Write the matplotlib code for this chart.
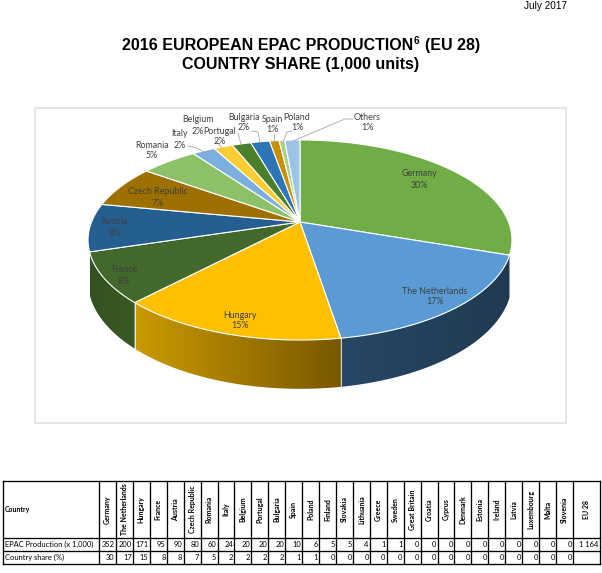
import matplotlib
matplotlib.use("Agg")
import matplotlib.pyplot as plt
import numpy as np
from matplotlib.patches import Polygon, Rectangle
from matplotlib.colors import to_rgb

# --- table data ---
countries = ["Germany", "The Netherlands", "Hungary", "France", "Austria", "Czech Republic",
             "Romania", "Italy", "Belgium", "Portugal", "Bulgaria", "Spain", "Poland",
             "Finland", "Slovakia", "Lithuania", "Greece", "Sweden", "Great Britain",
             "Croatia", "Cyprus", "Denmark", "Estonia", "Ireland", "Latvia", "Luxembourg",
             "Malta", "Slovenia", "EU 28"]
production = ["352", "200", "171", "95", "90", "80", "60", "24", "20", "20", "20", "10", "6",
              "5", "5", "4", "1", "1", "0", "0", "0", "0", "0", "0", "0", "0", "0", "0", "1 164"]
share = ["30", "17", "15", "8", "8", "7", "5", "2", "2", "2", "2", "1", "1",
         "0", "0", "0", "0", "0", "0", "0", "0", "0", "0", "0", "0", "0", "0", "0", ""]

# --- pie data ---
pie_names = ["Germany", "The Netherlands", "Hungary", "France", "Austria", "Czech Republic",
             "Romania", "Italy", "Belgium", "Portugal", "Bulgaria", "Spain", "Poland", "Others"]
pie_values = [352, 200, 171, 95, 90, 80, 60, 24, 20, 20, 20, 10, 6, 16]
pie_pct = [30, 17, 15, 8, 8, 7, 5, 2, 2, 2, 2, 1, 1, 1]
pie_colors = ["#70ad47", "#5b9bd5", "#ffc000", "#43682b", "#255e91", "#9e7000",
              "#8cc168", "#7cafdd", "#ffcd33", "#4a7f2c", "#2e75b6", "#c98f00", "#a9d18e", "#9dc3e6"]
# side wall gradients, left colour to right colour
side_colors = {"The Netherlands": ("#264766", "#213a52"),
               "Hungary": ("#cb9a00", "#785800"),
               "France": ("#33511f", "#3a5a25")}

plt.rcParams["font.family"] = ["Lato", "DejaVu Sans"]

fig = plt.figure(figsize=(6.02, 5.73), dpi=100)
ax = fig.add_axes([0, 0, 1, 1])
ax.axis("off")

# perspective of the pie, in pixels
x0, y0 = 300, 222
A, B, k = 208.5, 96.8, 0.18
depth = 40


def project(theta, d=0.0):
    w = 1 + k * np.cos(theta)
    return x0 + A * np.sin(theta) / w, y0 - B * np.cos(theta) / w + d / w


title_font = "Liberation Sans"
ax.text(545, 6, "July 2017", family=title_font, fontsize=7.2, ha="center", va="center")
ax.text(413, 45.5, "2016 EUROPEAN EPAC PRODUCTION", family=title_font,
        fontsize=11.5, fontweight="bold", ha="right", va="center")
ax.text(413.5, 41.5, "6", family=title_font, fontsize=7.2, fontweight="bold", ha="left", va="center")
ax.text(425, 45.5, "(EU 28)", family=title_font,
        fontsize=11.5, fontweight="bold", ha="left", va="center")
ax.text(301, 64, "COUNTRY SHARE (1,000 units)", family=title_font,
        fontsize=11.5, fontweight="bold", ha="center", va="center")

ax.add_patch(Rectangle((35, 108), 531, 315, fc="white", ec="#e4e4e4", lw=1.3))

edges = 2 * np.pi * np.cumsum([0] + pie_values) / sum(pie_values)

# side walls, only these three show in the original
for i, name in enumerate(pie_names):
    if name not in side_colors:
        continue
    t = np.linspace(edges[i], edges[i + 1], 120)
    xt, yt = project(t)
    xb, yb = project(t, depth)
    xs = np.concatenate([xt, xb[::-1]])
    ys = np.concatenate([yt, yb[::-1]])
    wall = Polygon(np.column_stack([xs, ys]), fc="none", ec="none", transform=ax.transData)
    ax.add_patch(wall)
    c1, c2 = [np.array(to_rgb(c)) for c in side_colors[name]]
    frac = np.linspace(0, 1, 256)[:, None]
    grad = (c1 * (1 - frac) + c2 * frac)[None, :, :]
    im = ax.imshow(grad, extent=(xs.min(), xs.max(), ys.max(), ys.min()), aspect="auto", zorder=2)
    im.set_clip_path(wall)

ax.set_xlim(0, 602)
ax.set_ylim(573, 0)

# white seams between the walls
for i in [2, 3]:
    xa, ya = project(edges[i])
    xb, yb = project(edges[i], depth)
    ax.plot([xa, xb], [ya, yb], color="white", lw=0.7, alpha=0.8, zorder=3)

# top of the pie
for i in range(len(pie_values)):
    t = np.linspace(edges[i], edges[i + 1], 100)
    xs, ys = project(t)
    pts = [(x0, y0)] + list(zip(xs, ys))
    ax.add_patch(Polygon(pts, fc=pie_colors[i], ec="white", lw=0.8, joinstyle="round", zorder=4))

# labels, placed by hand like the original (name xy, percent xy)
lab_font = 6.4
label_pos = {
    "Germany": (419, 174, 419, 186), "The Netherlands": (435, 291, 435, 302),
    "Hungary": (240, 315, 240, 326), "France": (124, 270, 124, 281),
    "Austria": (115, 222, 115, 233), "Czech Republic": (158, 192, 158, 203),
    "Romania": (152, 145, 152, 156), "Italy": (180, 134, 180, 145),
    "Belgium": (198, 120, 198, 131.5), "Portugal": (220, 132, 220, 142),
    "Bulgaria": (244, 117, 244, 128), "Spain": (272, 119, 272, 130),
    "Poland": (297, 117, 297, 128), "Others": (367, 117, 367, 128),
}
for name, pct in zip(pie_names, pie_pct):
    x1, y1, x2, y2 = label_pos[name]
    ax.text(x1, y1, name, fontsize=lab_font, color="#404040", ha="center", va="center", zorder=6)
    ax.text(x2, y2, f"{pct}%", fontsize=lab_font, color="#404040", ha="center", va="center", zorder=6)

# leader lines
leaders = [([188, 197, 204], [146, 148, 152]), ([215, 222], [140, 148]),
           ([238, 241], [133, 144]), ([252, 258, 260], [131, 132, 142]),
           ([274, 274], [134, 142]), ([292, 287, 283], [131, 132, 142]),
           ([353, 345, 293], [119, 119, 141])]
for lx, ly in leaders:
    ax.plot(lx, ly, color="#a6a6a6", lw=0.6, zorder=5)

# --- table ---
left, first, right_cols = 3, 99, 573
col_w = (right_cols - first) / 28
col_edges = [left] + [first + i * col_w for i in range(29)] + [600]
row_edges = [481, 538, 551, 564]
for x in col_edges:
    ax.plot([x, x], [row_edges[0], row_edges[-1]], color="black", lw=0.95, solid_capstyle="projecting")
for y in row_edges:
    ax.plot([left, 600], [y, y], color="black", lw=0.95, solid_capstyle="projecting")

ax.text(5, 509.5, "Country", fontsize=5, fontweight="bold", va="center")
ax.text(5, 544.5, "EPAC Production (x 1,000)", fontsize=5.4, va="center")
ax.text(5, 557.5, "Country share (%)", fontsize=5.4, va="center")
for i, name in enumerate(countries):
    xc = (col_edges[i + 1] + col_edges[i + 2]) / 2
    xr = col_edges[i + 2] - 1.2
    ax.text(xc, 509.5, name, fontsize=5, fontweight="bold", rotation=90, ha="center", va="center")
    ax.text(xr, 544.5, production[i], fontsize=5.4, ha="right", va="center")
    ax.text(xr, 557.5, share[i], fontsize=5.4, ha="right", va="center")

fig.savefig("out.png", dpi=100)
